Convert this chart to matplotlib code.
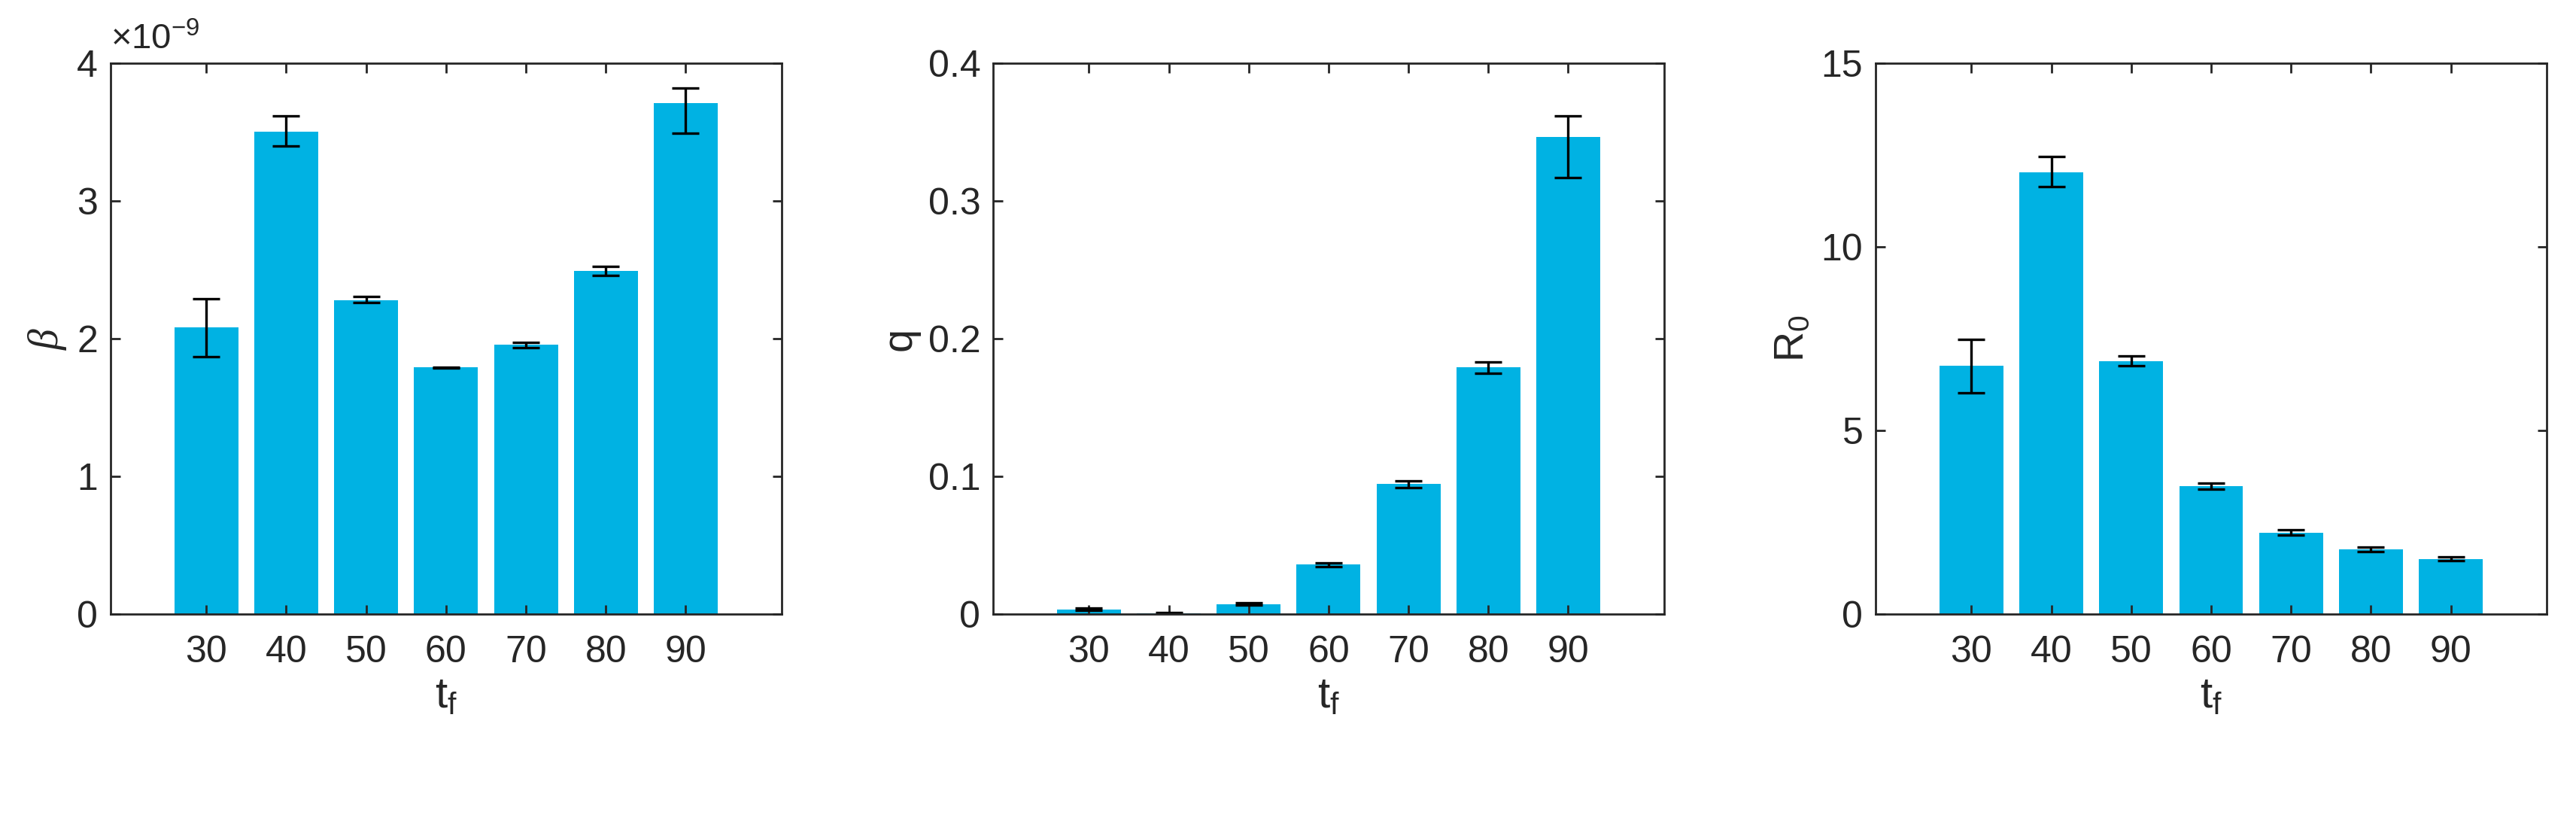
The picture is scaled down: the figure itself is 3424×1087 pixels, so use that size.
import numpy as np
import matplotlib
matplotlib.use("Agg")
from matplotlib import pyplot as plt

plt.rcParams['font.family'] = ['Liberation Sans', 'DejaVu Sans']
plt.rcParams['mathtext.fontset'] = 'custom'
plt.rcParams['mathtext.rm'] = 'Liberation Sans'
plt.rcParams['mathtext.it'] = 'Liberation Serif:italic'

tf = [30, 40, 50, 60, 70, 80, 90]

beta = [2.08, 3.505, 2.28, 1.79, 1.955, 2.49, 3.71]
beta_lo = [0.21, 0.105, 0.02, 0.005, 0.02, 0.03, 0.22]
beta_hi = [0.21, 0.115, 0.025, 0.005, 0.02, 0.033, 0.11]

q = [0.0035, 0.0007, 0.0073, 0.0359, 0.0944, 0.179, 0.3467]
q_lo = [0.001, 0.0005, 0.001, 0.0015, 0.0028, 0.004, 0.0296]
q_hi = [0.001, 0.0005, 0.001, 0.0015, 0.0024, 0.004, 0.0153]

R0 = [6.76, 12.03, 6.89, 3.48, 2.22, 1.76, 1.50]
R0_lo = [0.74, 0.39, 0.13, 0.08, 0.07, 0.06, 0.05]
R0_hi = [0.73, 0.42, 0.13, 0.08, 0.07, 0.06, 0.05]

bar_color = '#00B2E3'
ax_color = '#262626'

fig = plt.figure(figsize=(34.24, 10.87), dpi=100)
lefts = [0.0429, 0.3855, 0.7281]
panels = [
    (beta, beta_lo, beta_hi, r'$\beta$', 4, [0, 1, 2, 3, 4], 1e-9),
    (q, q_lo, q_hi, 'q', 0.4, [0, 0.1, 0.2, 0.3, 0.4], 1),
    (R0, R0_lo, R0_hi, r'$\mathregular{R_0}$', 15, [0, 5, 10, 15], 1),
]
x = np.arange(1, 8)
for left, (vals, lo, hi, lab, ymax, yt, scale) in zip(lefts, panels):
    ax = fig.add_axes([left, 0.2493, 0.2605, 0.6734])
    v = np.array(vals) * scale
    ax.bar(x, v, width=0.8, color=bar_color)
    ax.errorbar(x, v, yerr=[np.array(lo) * scale, np.array(hi) * scale],
                fmt='none', ecolor='black', elinewidth=2.4, capsize=13, capthick=2.4)
    ax.set_xlim(-0.2, 8.2)
    ax.set_ylim(0, ymax * scale)
    ax.set_xticks(x)
    ax.set_xticklabels([str(t) for t in tf])
    ax.set_yticks(np.array(yt) * scale)
    if scale != 1:
        ax.set_yticklabels([str(t) for t in yt])
        ax.text(0.0, 1.012, r'$\mathregular{\times10^{-9}}$', transform=ax.transAxes,
                fontsize=34, color=ax_color, va='bottom', ha='left')
    else:
        ax.set_yticklabels([('%g' % t) for t in yt])
    ax.tick_params(direction='in', length=9, width=2, colors=ax_color,
                   labelsize=36, top=True, right=True, pad=12)
    ax.tick_params(axis='x', pad=20)
    for s in ax.spines.values():
        s.set_color(ax_color)
        s.set_linewidth(2)
    ax.set_xlabel(r'$\mathregular{t_f}$', fontsize=42, color=ax_color, labelpad=6)
    ax.set_ylabel(lab, fontsize=40, color=ax_color, labelpad=8)

fig.savefig('out.png', dpi=100)
